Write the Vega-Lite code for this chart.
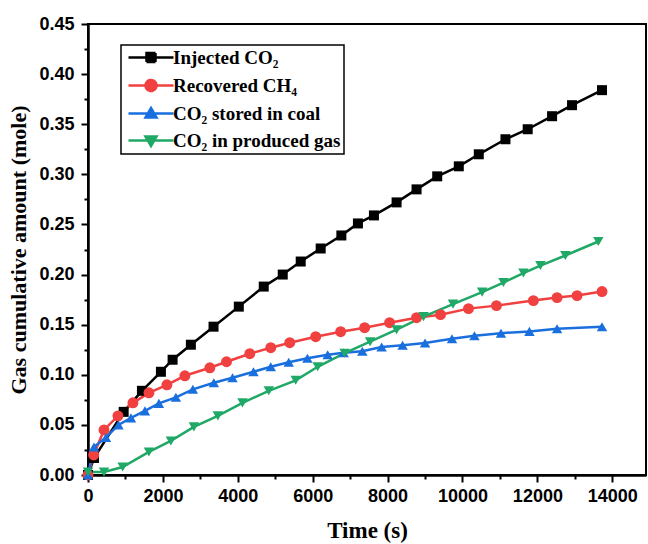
{
  "$schema": "https://vega.github.io/schema/vega-lite/v6.json",
  "width": 558,
  "height": 451,
  "autosize": {"type": "none"},
  "padding": {"left": 88, "top": 24, "right": 2, "bottom": 69},
  "background": "white",
  "config": {
    "view": {"stroke": "black", "strokeWidth": 2},
    "axis": {
      "grid": false,
      "domainColor": "black",
      "domainWidth": 2.5,
      "tickColor": "black",
      "tickWidth": 2,
      "labelFont": "Liberation Sans",
      "labelFontWeight": "bold",
      "labelFontSize": 18,
      "labelColor": "black",
      "labelFlush": false,
      "labelOverlap": false,
      "titleFont": "Liberation Serif",
      "titleFontWeight": "bold",
      "titleFontSize": 22,
      "titleColor": "black"
    }
  },
  "data": {
    "values": [
      {"series": "Injected CO₂", "t": 0, "v": 0},
      {"series": "Injected CO₂", "t": 160, "v": 0.017},
      {"series": "Injected CO₂", "t": 952, "v": 0.063},
      {"series": "Injected CO₂", "t": 1440, "v": 0.084},
      {"series": "Injected CO₂", "t": 1947, "v": 0.103},
      {"series": "Injected CO₂", "t": 2259, "v": 0.115},
      {"series": "Injected CO₂", "t": 2747, "v": 0.130},
      {"series": "Injected CO₂", "t": 3352, "v": 0.148},
      {"series": "Injected CO₂", "t": 4027, "v": 0.168},
      {"series": "Injected CO₂", "t": 4693, "v": 0.188},
      {"series": "Injected CO₂", "t": 5200, "v": 0.200},
      {"series": "Injected CO₂", "t": 5680, "v": 0.213},
      {"series": "Injected CO₂", "t": 6213, "v": 0.226},
      {"series": "Injected CO₂", "t": 6765, "v": 0.239},
      {"series": "Injected CO₂", "t": 7208, "v": 0.251},
      {"series": "Injected CO₂", "t": 7635, "v": 0.259},
      {"series": "Injected CO₂", "t": 8240, "v": 0.272},
      {"series": "Injected CO₂", "t": 8773, "v": 0.285},
      {"series": "Injected CO₂", "t": 9325, "v": 0.298},
      {"series": "Injected CO₂", "t": 9901, "v": 0.308},
      {"series": "Injected CO₂", "t": 10435, "v": 0.320},
      {"series": "Injected CO₂", "t": 11147, "v": 0.335},
      {"series": "Injected CO₂", "t": 11741, "v": 0.345},
      {"series": "Injected CO₂", "t": 12392, "v": 0.358},
      {"series": "Injected CO₂", "t": 12925, "v": 0.369},
      {"series": "Injected CO₂", "t": 13725, "v": 0.384},
      {"series": "Recovered CH₄", "t": 0, "v": 0},
      {"series": "Recovered CH₄", "t": 152, "v": 0.020},
      {"series": "Recovered CH₄", "t": 427, "v": 0.045},
      {"series": "Recovered CH₄", "t": 800, "v": 0.059},
      {"series": "Recovered CH₄", "t": 1200, "v": 0.072},
      {"series": "Recovered CH₄", "t": 1627, "v": 0.082},
      {"series": "Recovered CH₄", "t": 2107, "v": 0.090},
      {"series": "Recovered CH₄", "t": 2587, "v": 0.099},
      {"series": "Recovered CH₄", "t": 3253, "v": 0.107},
      {"series": "Recovered CH₄", "t": 3699, "v": 0.113},
      {"series": "Recovered CH₄", "t": 4320, "v": 0.121},
      {"series": "Recovered CH₄", "t": 4880, "v": 0.127},
      {"series": "Recovered CH₄", "t": 5387, "v": 0.132},
      {"series": "Recovered CH₄", "t": 6080, "v": 0.138},
      {"series": "Recovered CH₄", "t": 6747, "v": 0.143},
      {"series": "Recovered CH₄", "t": 7387, "v": 0.147},
      {"series": "Recovered CH₄", "t": 8053, "v": 0.152},
      {"series": "Recovered CH₄", "t": 8773, "v": 0.157},
      {"series": "Recovered CH₄", "t": 9413, "v": 0.160},
      {"series": "Recovered CH₄", "t": 10160, "v": 0.166},
      {"series": "Recovered CH₄", "t": 10907, "v": 0.169},
      {"series": "Recovered CH₄", "t": 11893, "v": 0.174},
      {"series": "Recovered CH₄", "t": 12525, "v": 0.177},
      {"series": "Recovered CH₄", "t": 13059, "v": 0.179},
      {"series": "Recovered CH₄", "t": 13725, "v": 0.183},
      {"series": "CO₂ stored in coal", "t": 0, "v": 0},
      {"series": "CO₂ stored in coal", "t": 160, "v": 0.028},
      {"series": "CO₂ stored in coal", "t": 480, "v": 0.0375},
      {"series": "CO₂ stored in coal", "t": 813, "v": 0.050},
      {"series": "CO₂ stored in coal", "t": 1147, "v": 0.057},
      {"series": "CO₂ stored in coal", "t": 1520, "v": 0.064},
      {"series": "CO₂ stored in coal", "t": 1893, "v": 0.0715},
      {"series": "CO₂ stored in coal", "t": 2347, "v": 0.0775},
      {"series": "CO₂ stored in coal", "t": 2800, "v": 0.0855},
      {"series": "CO₂ stored in coal", "t": 3360, "v": 0.092},
      {"series": "CO₂ stored in coal", "t": 3859, "v": 0.097},
      {"series": "CO₂ stored in coal", "t": 4419, "v": 0.103},
      {"series": "CO₂ stored in coal", "t": 4880, "v": 0.108},
      {"series": "CO₂ stored in coal", "t": 5360, "v": 0.1125},
      {"series": "CO₂ stored in coal", "t": 5859, "v": 0.1165},
      {"series": "CO₂ stored in coal", "t": 6400, "v": 0.120},
      {"series": "CO₂ stored in coal", "t": 6827, "v": 0.122},
      {"series": "CO₂ stored in coal", "t": 7325, "v": 0.1235},
      {"series": "CO₂ stored in coal", "t": 7840, "v": 0.1277},
      {"series": "CO₂ stored in coal", "t": 8400, "v": 0.1295},
      {"series": "CO₂ stored in coal", "t": 9000, "v": 0.1317},
      {"series": "CO₂ stored in coal", "t": 9720, "v": 0.136},
      {"series": "CO₂ stored in coal", "t": 10320, "v": 0.139},
      {"series": "CO₂ stored in coal", "t": 11027, "v": 0.1415},
      {"series": "CO₂ stored in coal", "t": 11787, "v": 0.1433},
      {"series": "CO₂ stored in coal", "t": 12525, "v": 0.146},
      {"series": "CO₂ stored in coal", "t": 13725, "v": 0.148},
      {"series": "CO₂ in produced gas", "t": 0, "v": 0.003},
      {"series": "CO₂ in produced gas", "t": 427, "v": 0.003},
      {"series": "CO₂ in produced gas", "t": 925, "v": 0.008},
      {"series": "CO₂ in produced gas", "t": 1627, "v": 0.023},
      {"series": "CO₂ in produced gas", "t": 2213, "v": 0.034},
      {"series": "CO₂ in produced gas", "t": 2827, "v": 0.048},
      {"series": "CO₂ in produced gas", "t": 3467, "v": 0.059},
      {"series": "CO₂ in produced gas", "t": 4125, "v": 0.072},
      {"series": "CO₂ in produced gas", "t": 4827, "v": 0.084},
      {"series": "CO₂ in produced gas", "t": 5547, "v": 0.0945},
      {"series": "CO₂ in produced gas", "t": 6133, "v": 0.108},
      {"series": "CO₂ in produced gas", "t": 6853, "v": 0.1215},
      {"series": "CO₂ in produced gas", "t": 7533, "v": 0.133},
      {"series": "CO₂ in produced gas", "t": 8240, "v": 0.145},
      {"series": "CO₂ in produced gas", "t": 8960, "v": 0.158},
      {"series": "CO₂ in produced gas", "t": 9747, "v": 0.1705},
      {"series": "CO₂ in produced gas", "t": 10525, "v": 0.1825},
      {"series": "CO₂ in produced gas", "t": 11093, "v": 0.192},
      {"series": "CO₂ in produced gas", "t": 11627, "v": 0.2015},
      {"series": "CO₂ in produced gas", "t": 12080, "v": 0.209},
      {"series": "CO₂ in produced gas", "t": 12747, "v": 0.219},
      {"series": "CO₂ in produced gas", "t": 13627, "v": 0.233}
    ]
  },
  "encoding": {
    "x": {
      "field": "t",
      "type": "quantitative",
      "scale": {"domain": [0, 14900], "nice": false, "zero": false},
      "axis": {
        "title": "Time (s)",
        "titleFontSize": 23,
        "values": [0, 1000, 2000, 3000, 4000, 5000, 6000, 7000, 8000, 9000, 10000, 11000, 12000, 13000, 14000],
        "format": "d",
        "labelExpr": "datum.value % 2000 === 0 ? datum.label : ''",
        "tickSize": {"condition": {"test": "datum.value % 2000 === 0", "value": 7}, "value": 4},
        "labelPadding": 5,
        "titlePadding": 14
      }
    },
    "y": {
      "field": "v",
      "type": "quantitative",
      "scale": {"domain": [0, 0.45], "nice": false},
      "axis": {
        "title": "Gas cumulative amount (mole)",
        "values": [0, 0.025, 0.05, 0.075, 0.1, 0.125, 0.15, 0.175, 0.2, 0.225, 0.25, 0.275, 0.3, 0.325, 0.35, 0.375, 0.4, 0.425, 0.45],
        "labelExpr": "round(datum.value * 1000) % 50 === 0 ? format(datum.value, '.2f') : ''",
        "tickSize": {"condition": {"test": "round(datum.value * 1000) % 50 === 0", "value": 7}, "value": 4},
        "labelPadding": 7,
        "titlePadding": 8
      }
    },
    "color": {
      "field": "series",
      "type": "nominal",
      "scale": {
        "domain": ["Injected CO₂", "Recovered CH₄", "CO₂ stored in coal", "CO₂ in produced gas"],
        "range": ["#000000", "#F14040", "#1A6FDF", "#1FA866"]
      },
      "legend": {
        "title": null,
        "orient": "none",
        "legendX": 33,
        "legendY": 21,
        "zindex": 2,
        "fillColor": "white",
        "strokeColor": "black",
        "padding": 3,
        "symbolSize": 100,
        "symbolOffset": 17.5,
        "labelOffset": 12.5,
        "rowPadding": 7,
        "labelLimit": 400,
        "labelFont": "Liberation Serif",
        "labelFontWeight": "bold",
        "labelFontSize": 19,
        "labelColor": "black",
        "encode": {
          "legend": {"update": {"strokeWidth": {"value": 1.5}}},
          "symbols": {
            "update": {
              "shape": {"signal": "datum.index === 0 ? 'M-4.5,0H4.5M-0.9,-0.9H0.9V0.9H-0.9Z' : datum.index === 1 ? 'M-4.5,0H4.5M1.1,0A1.1,1.1 0 1,1 -1.1,0A1.1,1.1 0 1,1 1.1,0Z' : datum.index === 2 ? 'M-4.5,0H4.5M0,-1.1L1.1,0.8L-1.1,0.8Z' : 'M-4.5,0H4.5M0,1.1L1.1,-0.8L-1.1,-0.8Z'"},
              "fill": {"scale": "color", "field": "value"},
              "stroke": {"scale": "color", "field": "value"},
              "strokeWidth": {"value": 2.5},
              "opacity": {"value": 1}
            }
          }
        }
      }
    }
  },
  "layer": [
    {"mark": {"type": "line", "strokeWidth": 2.5}},
    {
      "transform": [{"filter": "datum.series === 'Injected CO₂'"}],
      "mark": {"type": "point", "shape": "square", "filled": true, "opacity": 1, "size": 100}
    },
    {
      "transform": [{"filter": "datum.series === 'Recovered CH₄'"}],
      "mark": {"type": "point", "shape": "circle", "filled": true, "opacity": 1, "size": 120}
    },
    {
      "transform": [{"filter": "datum.series === 'CO₂ stored in coal'"}],
      "mark": {"type": "point", "shape": "triangle-up", "filled": true, "opacity": 1, "size": 110}
    },
    {
      "transform": [{"filter": "datum.series === 'CO₂ in produced gas'"}],
      "mark": {"type": "point", "shape": "triangle-down", "filled": true, "opacity": 1, "size": 110}
    },
    {
      "transform": [{"filter": "false"}],
      "mark": {"type": "line"},
      "encoding": {
        "color": {"value": "black"},
        "strokeDash": {
          "field": "series",
          "type": "nominal",
          "scale": {
            "domain": ["Injected CO₂", "Recovered CH₄", "CO₂ stored in coal", "CO₂ in produced gas"],
            "range": [[1, 0], [1, 0], [1, 0], [1, 0]]
          },
          "legend": {
            "title": null,
            "orient": "none",
            "legendX": 39,
            "legendY": 27,
            "zindex": 1,
            "fillColor": "black",
            "strokeColor": "black",
            "padding": 3,
            "symbolSize": 100,
            "symbolOffset": 17.5,
            "labelOffset": 12.5,
            "rowPadding": 7,
            "labelLimit": 400,
            "labelFont": "Liberation Serif",
            "labelFontWeight": "bold",
            "labelFontSize": 19,
            "labelColor": "black",
            "symbolStrokeColor": "black",
            "encode": {
              "symbols": {
                "update": {
                  "shape": {"signal": "datum.index === 0 ? 'M-4.5,0H4.5M-0.9,-0.9H0.9V0.9H-0.9Z' : datum.index === 1 ? 'M-4.5,0H4.5M1.1,0A1.1,1.1 0 1,1 -1.1,0A1.1,1.1 0 1,1 1.1,0Z' : datum.index === 2 ? 'M-4.5,0H4.5M0,-1.1L1.1,0.8L-1.1,0.8Z' : 'M-4.5,0H4.5M0,1.1L1.1,-0.8L-1.1,-0.8Z'"},
                  "fill": {"value": "black"},
                  "stroke": {"value": "black"},
                  "strokeWidth": {"value": 2.5}
                }
              }
            }
          }
        }
      }
    }
  ]
}
